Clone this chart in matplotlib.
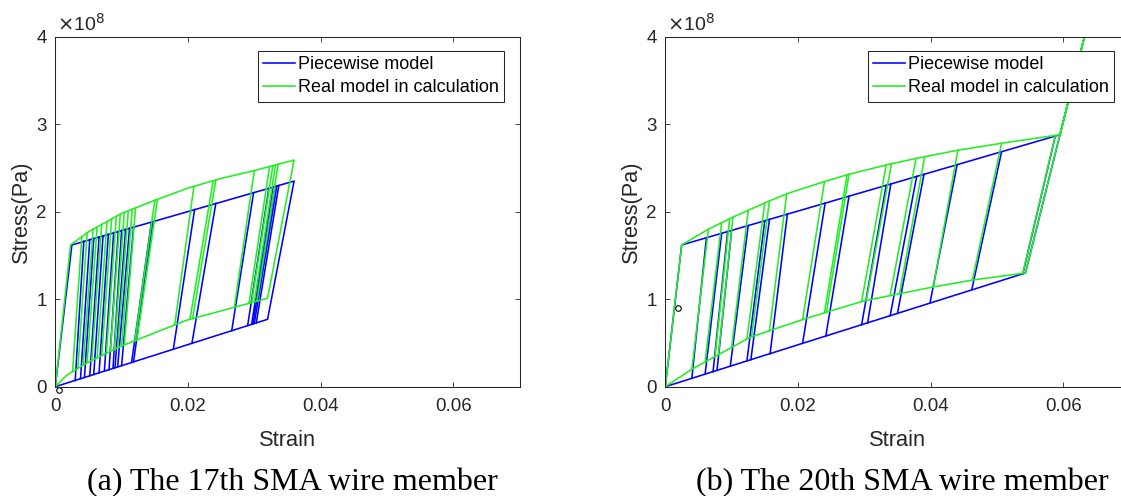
import matplotlib
matplotlib.use("Agg")
import matplotlib.pyplot as plt
import numpy as np

# ---------------- data (stress in units of 1e8 Pa) ----------------
# Panel (a): 17th SMA wire member
a_pw_env_strain = [0.0, 0.0025, 0.0360, 0.0320, 0.0]
a_pw_env_stress = [0.0, 1.62, 2.35, 0.77, 0.0]
a_pw_top_strain = [0.0043, 0.0052, 0.0058, 0.0066, 0.0072, 0.0080, 0.0088, 0.0095, 0.0100,
                   0.0106, 0.0112, 0.0118, 0.0145, 0.0147,
                   0.0210, 0.0242, 0.0299, 0.0322, 0.0328, 0.0331, 0.0334, 0.0337]
a_pw_top_stress = [1.663, 1.683, 1.696, 1.713, 1.726, 1.743, 1.761, 1.776, 1.787,
                   1.800, 1.813, 1.826, 1.884, 1.889,
                   2.025, 2.094, 2.218, 2.268, 2.281, 2.287, 2.294, 2.300]
a_pw_bot_strain = [0.0030, 0.0038, 0.0044, 0.0052, 0.0058, 0.0066, 0.0074, 0.0081, 0.0087,
                   0.0090, 0.0094, 0.0100, 0.0115, 0.0118,
                   0.0178, 0.0206, 0.0266, 0.0290, 0.0296, 0.0298, 0.0300, 0.0303]
a_pw_bot_stress = [0.072, 0.092, 0.106, 0.125, 0.140, 0.159, 0.178, 0.195, 0.210,
                   0.217, 0.227, 0.241, 0.277, 0.284,
                   0.429, 0.496, 0.641, 0.699, 0.713, 0.718, 0.723, 0.730]

a_rm_env_strain = [0.0, 0.0023, 0.005, 0.010, 0.015, 0.020, 0.025, 0.030, 0.036,
                   0.032, 0.0198, 0.0098, 0.0047, 0.0017, 0.0]
a_rm_env_stress = [0.0, 1.62, 1.77, 1.98, 2.13, 2.27, 2.38, 2.47, 2.59,
                   1.01, 0.76, 0.46, 0.27, 0.13, 0.0]
a_rm_top_strain = [0.0040, 0.0048, 0.0057, 0.0063, 0.0070, 0.0078, 0.0085, 0.0092, 0.0098,
                   0.0104, 0.0110, 0.0116, 0.0121, 0.0150, 0.0154,
                   0.0209, 0.0238, 0.0242, 0.0300, 0.0323, 0.0328, 0.0332, 0.0336]
a_rm_top_stress = [1.715, 1.759, 1.799, 1.825, 1.854, 1.888, 1.917, 1.946, 1.972,
                   1.992, 2.010, 2.028, 2.043, 2.130, 2.141,
                   2.290, 2.354, 2.362, 2.470, 2.516, 2.526, 2.534, 2.542]
a_rm_bot_strain = [0.0026, 0.0034, 0.0042, 0.0048, 0.0055, 0.0063, 0.0070, 0.0077, 0.0083,
                   0.0089, 0.0094, 0.0100, 0.0104, 0.0120, 0.0123,
                   0.0180, 0.0203, 0.0207, 0.0270, 0.0292, 0.0296, 0.0300, 0.0304]
a_rm_bot_stress = [0.172, 0.209, 0.247, 0.274, 0.300, 0.330, 0.356, 0.382, 0.404,
                   0.426, 0.445, 0.466, 0.478, 0.526, 0.535,
                   0.706, 0.770, 0.778, 0.908, 0.953, 0.961, 0.969, 0.977]
a_marker = (0.0006, -0.04)

# Panel (b): 20th SMA wire member
b_pw_env_strain = [0.0, 0.00247, 0.0595, 0.0650, 0.0543, 0.0]
b_pw_env_stress = [0.0, 1.62, 2.88, 4.55, 1.30, 0.0]
b_pw_top_strain = [0.0062, 0.0085, 0.0094, 0.0100, 0.0125, 0.0150, 0.0157, 0.0184, 0.0241,
                   0.0277, 0.0333, 0.0340, 0.0379, 0.0390, 0.0440, 0.0507, 0.0588]
b_pw_top_stress = [1.702, 1.753, 1.773, 1.786, 1.842, 1.897, 1.912, 1.972, 2.098,
                   2.177, 2.301, 2.317, 2.403, 2.427, 2.537, 2.685, 2.864]
b_pw_bot_strain = [0.0040, 0.0060, 0.0072, 0.0078, 0.0098, 0.0123, 0.0129, 0.0158, 0.0207,
                   0.0242, 0.0296, 0.0305, 0.0339, 0.0350, 0.0399, 0.0462, 0.0539]
b_pw_bot_stress = [0.096, 0.144, 0.172, 0.187, 0.235, 0.294, 0.309, 0.378, 0.496,
                   0.579, 0.709, 0.730, 0.812, 0.838, 0.955, 1.106, 1.290]

b_rm_env_strain = [0.0, 0.00247, 0.0065, 0.01025, 0.0153, 0.0185, 0.0238, 0.0278, 0.0339,
                   0.0379, 0.0439, 0.0505, 0.0595, 0.0650, 0.0543, 0.0464, 0.0404,
                   0.0299, 0.0208, 0.0128, 0.004, 0.0]
b_rm_env_stress = [0.0, 1.62, 1.80, 1.94, 2.11, 2.21, 2.34, 2.43, 2.545,
                   2.61, 2.70, 2.78, 2.88, 4.55, 1.30, 1.22, 1.14,
                   0.98, 0.77, 0.565, 0.20, 0.0]
b_rm_top_strain = [0.0065, 0.0085, 0.0097, 0.0102, 0.0125, 0.0150, 0.0157, 0.0183, 0.0240,
                   0.0274, 0.0277, 0.0333, 0.0341, 0.0378, 0.0391, 0.0441, 0.0507, 0.0588]
b_rm_top_stress = [1.800, 1.875, 1.919, 1.938, 2.016, 2.100, 2.123, 2.204, 2.345,
                   2.421, 2.428, 2.534, 2.548, 2.608, 2.628, 2.702, 2.782, 2.872]
b_rm_bot_strain = [0.0040, 0.0060, 0.0075, 0.0080, 0.0100, 0.0123, 0.0130, 0.0157, 0.0207,
                   0.0240, 0.0243, 0.0296, 0.0303, 0.0339, 0.0353, 0.0404, 0.0463, 0.0539]
b_rm_bot_stress = [0.200, 0.283, 0.345, 0.366, 0.449, 0.544, 0.570, 0.639, 0.767,
                   0.844, 0.851, 0.973, 0.986, 1.041, 1.062, 1.140, 1.219, 1.296]
b_marker = (0.00187, 0.896)

x_ticks = [0, 0.02, 0.04, 0.06]
x_ticklabels = ["0", "0.02", "0.04", "0.06"]
y_ticks = [0, 1, 2, 3, 4]
y_ticklabels = ["0", "1", "2", "3", "4"]
legend_labels = ["Piecewise model", "Real model in calculation"]
captions = ["(a) The 17th SMA wire member", "(b) The 20th SMA wire member"]

# ---------------- styling ----------------
BLUE = "#0000ff"
GREEN = "#22ee22"
GRAY = "#262626"
SANS = ["Liberation Sans", "DejaVu Sans"]
SERIF = ["Liberation Serif", "DejaVu Serif"]
plt.rcParams["font.family"] = SANS

W, H = 1121, 496
fig = plt.figure(figsize=(W / 100, H / 100), dpi=100)

ax_w = 464.3 / W
ax_h = 350.0 / H
ax_b = (H - 386.7) / H
ax_a = fig.add_axes([55.3 / W, ax_b, ax_w, ax_h])
ax_bb = fig.add_axes([665.3 / W, ax_b, ax_w, ax_h])

panels = [
    (ax_a, a_pw_env_strain, a_pw_env_stress, a_pw_top_strain, a_pw_top_stress,
     a_pw_bot_strain, a_pw_bot_stress, a_rm_env_strain, a_rm_env_stress,
     a_rm_top_strain, a_rm_top_stress, a_rm_bot_strain, a_rm_bot_stress, a_marker),
    (ax_bb, b_pw_env_strain, b_pw_env_stress, b_pw_top_strain, b_pw_top_stress,
     b_pw_bot_strain, b_pw_bot_stress, b_rm_env_strain, b_rm_env_stress,
     b_rm_top_strain, b_rm_top_stress, b_rm_bot_strain, b_rm_bot_stress, b_marker),
]

LW = 1.15
for i, (ax, pes, pesg, pts, ptg, pbs, pbg, res, resg, rts, rtg, rbs, rbg, mk) in enumerate(panels):
    hb, = ax.plot(pes, pesg, color=BLUE, lw=LW)
    ax.plot(np.vstack([pts, pbs]), np.vstack([ptg, pbg]), color=BLUE, lw=LW)
    hg, = ax.plot(res, resg, color=GREEN, lw=LW)
    ax.plot(np.vstack([rts, rbs]), np.vstack([rtg, rbg]), color=GREEN, lw=LW)
    ax.plot([mk[0]], [mk[1]], marker="o", ms=4, mfc="none", mec="black", mew=0.8,
            ls="none", clip_on=False)

    ax.set_xlim(0, 0.07)
    ax.set_ylim(0, 4)
    ax.set_xticks(x_ticks)
    ax.set_xticklabels(x_ticklabels)
    ax.set_yticks(y_ticks)
    ax.set_yticklabels(y_ticklabels)
    ax.tick_params(direction="in", length=3.6, width=0.6, colors=GRAY,
                   top=True, right=True, labelsize=13.5)
    ax.tick_params(axis="x", pad=8)
    ax.tick_params(axis="y", pad=6)
    for s in ax.spines.values():
        s.set_color(GRAY)
        s.set_linewidth(0.75)

    ax.set_xlabel("Strain", fontsize=15.7, color=GRAY, va="center")
    ax.xaxis.set_label_coords(0.5, -(440 - 386.7) / 350)
    ax.set_ylabel("Stress(Pa)", fontsize=15.7, color=GRAY, va="center")
    ax.yaxis.set_label_coords(-(55.3 - 21) / 464.3, 0.5)

    ax.text(0.003, 1.005, r"$\times$10$^{8}$", transform=ax.transAxes, fontsize=14,
            color=GRAY, ha="left", va="bottom")

    leg = ax.legend([hb, hg], legend_labels, loc="upper right",
                    bbox_to_anchor=((504 - 55.3) / 464.3, (386.7 - 50.7) / 350),
                    borderaxespad=0, fontsize=13, frameon=True, fancybox=False,
                    framealpha=1, edgecolor=GRAY, handlelength=1.75,
                    handletextpad=0.15, labelspacing=0.35, borderpad=0.3)
    leg.get_frame().set_linewidth(0.75)

fig.text(292 / W, (H - 490.7) / H, captions[0], fontsize=23, family=SERIF,
         ha="center", va="baseline", color="black")
fig.text(902 / W, (H - 490.7) / H, captions[1], fontsize=23, family=SERIF,
         ha="center", va="baseline", color="black")

fig.savefig("out.png", dpi=100)
